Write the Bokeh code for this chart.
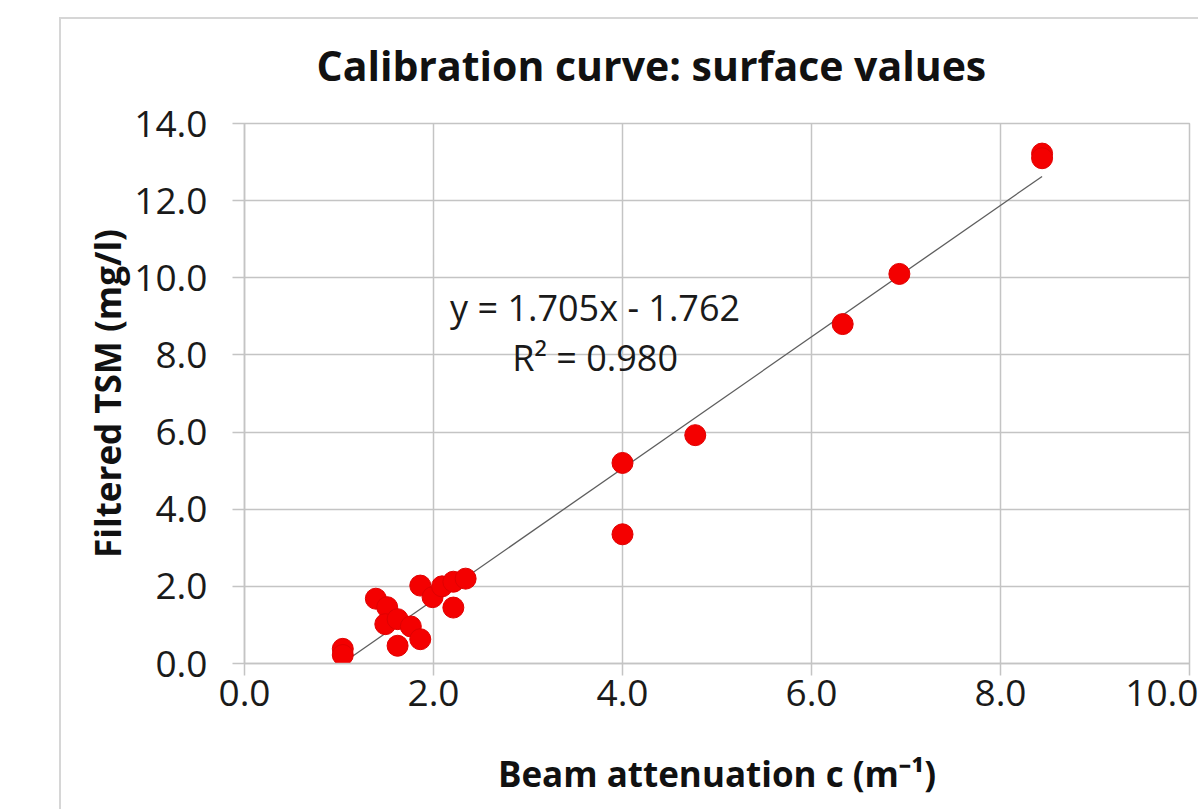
from bokeh.plotting import figure
from bokeh.models import Label, Range1d, FixedTicker, NumeralTickFormatter
from bokeh.embed import file_html
from bokeh.resources import INLINE

# ---- data ----
beam_c = [1.04, 1.04, 1.39, 1.51, 1.49, 1.62, 1.76, 1.62, 1.86, 1.86, 1.99,
          2.09, 2.21, 2.34, 2.21, 4.00, 4.00, 4.77, 6.33, 6.93, 8.44, 8.44]
tsm = [0.38, 0.22, 1.68, 1.46, 1.02, 1.15, 0.96, 0.46, 0.63, 2.02, 1.72,
       2.00, 2.12, 2.20, 1.45, 5.20, 3.35, 5.92, 8.80, 10.10, 13.22, 13.10]
slope = 1.705
intercept = -1.762
r_squared = 0.980
x_ticks = [0, 2, 4, 6, 8, 10]
y_ticks = [0, 2, 4, 6, 8, 10, 12, 14]

title_text = "Calibration curve: surface values"
x_label = "Beam attenuation c (m\u207b\u00b9)"
y_label = "Filtered TSM (mg/l)"

FONT = "Open Sans"
GRID = "#c4c4c4"
EDGE = "#d6d6d6"

p = figure(width=1139, height=809, x_range=Range1d(0, 10), y_range=Range1d(0, 14),
           output_backend="svg", toolbar_location=None,
           min_border_left=185, min_border_right=9, min_border_top=123, min_border_bottom=146)

# outer chart border (left / top edges visible in the reference), drawn behind a transparent canvas
p.margin = (0, 0, 0, 59)
p.styles = {
    "background": (f"linear-gradient({EDGE}, {EDGE}) 0px 17px / 100% 2px no-repeat, "
                   f"linear-gradient({EDGE}, {EDGE}) 0px 17px / 2px 100% no-repeat, white")
}

p.background_fill_color = "white"
p.border_fill_color = "white"
p.border_fill_alpha = 0
p.outline_line_color = GRID
p.outline_line_width = 1.5

p.title.text = title_text
p.title.align = "left"
p.title.offset = 72
p.title.standoff = 62
p.title.text_font = FONT
p.title.text_font_style = "bold"
p.title.text_font_size = "41px"
p.title.text_color = "#111111"

for ax, ticks in ((p.xaxis, x_ticks), (p.yaxis, y_ticks)):
    ax.ticker = FixedTicker(ticks=ticks)
    ax.formatter = NumeralTickFormatter(format="0.0")
    ax.minor_tick_line_color = None
    ax.major_tick_in = 0
    ax.major_tick_out = 12
    ax.major_tick_line_color = GRID
    ax.major_tick_line_width = 1.5
    ax.axis_line_color = GRID
    ax.axis_line_width = 1.5
    ax.major_label_text_font = FONT
    ax.major_label_text_font_size = "37px"
    ax.major_label_text_color = "#1a1a1a"
    ax.axis_label_text_font = FONT
    ax.axis_label_text_font_style = "bold"
    ax.axis_label_text_font_size = "35px"
    ax.axis_label_text_color = "#111111"

p.xaxis.axis_label = x_label
p.yaxis.axis_label = y_label
p.xaxis.major_label_standoff = 4
p.yaxis.major_label_standoff = 25
p.xaxis.axis_label_standoff = 41
p.yaxis.axis_label_standoff = 0

p.xgrid.grid_line_color = GRID
p.ygrid.grid_line_color = GRID
p.xgrid.grid_line_width = 1.5
p.ygrid.grid_line_width = 1.5

# trendline over the data span
x0, x1 = min(beam_c), max(beam_c)
p.line([x0, x1], [slope * x0 + intercept, slope * x1 + intercept],
       line_color="#5e5e5e", line_width=1.3)

p.scatter(beam_c, tsm, size=21, fill_color="#f40000", line_color="#e00000", line_width=1)

# equation annotation
sign = "-" if intercept < 0 else "+"
eq1 = f"y = {slope:.3f}x {sign} {abs(intercept):.3f}"
eq2 = f"R\u00b2 = {r_squared:.3f}"
p.add_layout(Label(x=3.71, y=9.23, text=eq1, text_align="center", text_baseline="middle",
                   text_font=FONT, text_font_size="36px", text_color="#1a1a1a"))
p.add_layout(Label(x=3.71, y=7.93, text=eq2, text_align="center", text_baseline="middle",
                   text_font=FONT, text_font_size="36px", text_color="#1a1a1a"))

open("out.html", "w").write(file_html(p, INLINE))
